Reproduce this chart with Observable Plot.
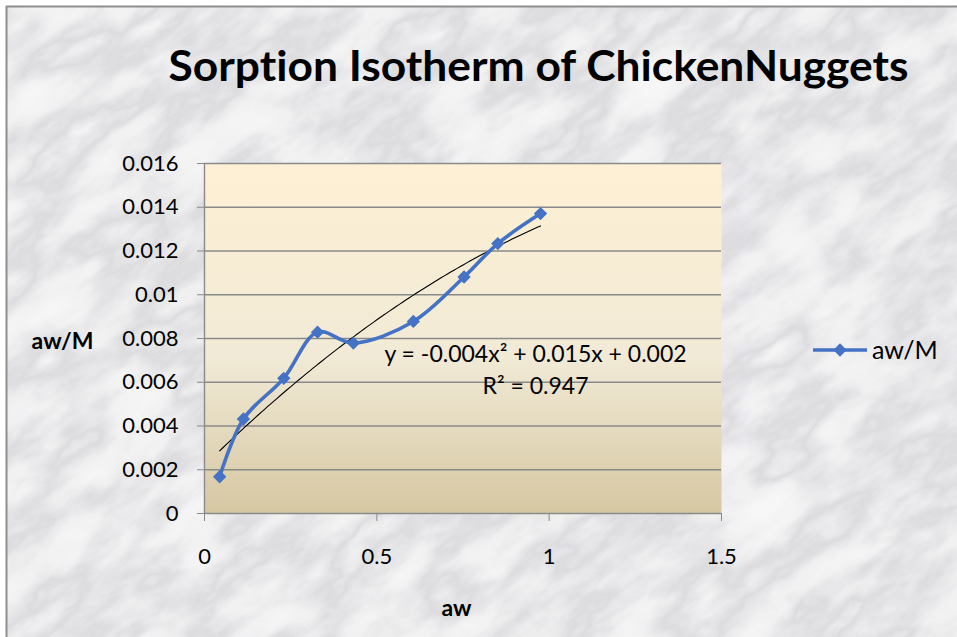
<!DOCTYPE html>
<html>
<head>
<meta charset="utf-8">
<script src="https://cdn.jsdelivr.net/npm/d3@7"></script>
<script src="https://cdn.jsdelivr.net/npm/@observablehq/plot@0.6"></script>
<style>
  html, body { margin: 0; padding: 0; background: #ffffff; }
  #wrap { position: relative; width: 957px; height: 637px; overflow: hidden; font-family: Lato, "Noto Sans", sans-serif; font-variant-ligatures: none; }
  #wrap text { font-variant-ligatures: none; }
  #bg, #chart, #legend { position: absolute; left: 0; top: 0; }
</style>
</head>
<body>
<div id="wrap">
  <svg id="bg" width="957" height="637">
    <defs>
      <filter id="marble" x="-20%" y="-20%" width="140%" height="140%">
        <feTurbulence type="fractalNoise" baseFrequency="0.011 0.024" numOctaves="5" seed="11" result="n"/>
        <feColorMatrix in="n" type="matrix" values="0.33 0.33 0.33 0 0  0.33 0.33 0.33 0 0  0.33 0.33 0.33 0 0  0 0 0 0 1" result="g"/>
        <feComponentTransfer in="g">
          <feFuncR type="table" tableValues="0.95 0.94 0.90 0.72 0.88 0.93 0.95 0.97"/>
          <feFuncG type="table" tableValues="0.95 0.94 0.90 0.72 0.88 0.93 0.95 0.97"/>
          <feFuncB type="table" tableValues="0.96 0.95 0.91 0.74 0.89 0.94 0.96 0.98"/>
        </feComponentTransfer>
      </filter>
    </defs>
    <rect x="0" y="0" width="957" height="637" fill="#ffffff"/>
    <g transform="rotate(-35 478 318)">
      <rect x="-300" y="-400" width="1560" height="1440" filter="url(#marble)"/>
    </g>
    <rect x="0" y="0" width="957" height="6" fill="#ffffff"/>
    <rect x="0" y="0" width="6" height="637" fill="#ffffff"/>
    <line x1="6" y1="6.5" x2="957" y2="6.5" stroke="#8e8e8e" stroke-width="2"/>
    <line x1="6.5" y1="6" x2="6.5" y2="637" stroke="#8e8e8e" stroke-width="2"/>
  </svg>
  <div id="chart"></div>
  <svg id="legend" width="957" height="637"></svg>
</div>
<script>
// ---- data ----
const title = "Sorption Isotherm of ChickenNuggets";
const xLabel = "aw";
const yLabel = "aw/M";
const seriesName = "aw/M";
const aw = [0.044, 0.113, 0.230, 0.328, 0.432, 0.606, 0.753, 0.851, 0.975];
const awM = [0.00168, 0.00432, 0.00618, 0.00829, 0.00779, 0.00878, 0.01081, 0.01234, 0.01371];
const xTicks = [0, 0.5, 1, 1.5];
const yTicks = [0, 0.002, 0.004, 0.006, 0.008, 0.01, 0.012, 0.014, 0.016];
const equationText = "y = -0.004x² + 0.015x + 0.002\nR² = 0.947";

const data = aw.map((x, i) => ({x, y: awM[i]}));

// quadratic least-squares trendline from the data
function quadFit(xs, ys) {
  let S = [0,0,0,0,0], T = [0,0,0];
  xs.forEach((x, i) => {
    for (let k = 0; k < 5; k++) S[k] += Math.pow(x, k);
    for (let k = 0; k < 3; k++) T[k] += ys[i] * Math.pow(x, k);
  });
  const A = [[S[0],S[1],S[2],T[0]],[S[1],S[2],S[3],T[1]],[S[2],S[3],S[4],T[2]]];
  for (let c = 0; c < 3; c++) {
    for (let r = c + 1; r < 3; r++) {
      const f = A[r][c] / A[c][c];
      for (let k = c; k < 4; k++) A[r][k] -= f * A[c][k];
    }
  }
  const b = [0,0,0];
  for (let r = 2; r >= 0; r--) {
    let s = A[r][3];
    for (let k = r + 1; k < 3; k++) s -= A[r][k] * b[k];
    b[r] = s / A[r][r];
  }
  return b;
}
const [c0, c1, c2] = quadFit(aw, awM);
const x0 = d3.min(aw), x1 = d3.max(aw);
const trend = d3.range(0, 101).map(i => {
  const x = x0 + (x1 - x0) * i / 100;
  return {x, y: c0 + c1 * x + c2 * x * x};
});

const blue = "#4472C4";
const gridGray = "#8a8a8a";
const font = "Lato, 'Noto Sans', sans-serif";

const plot = Plot.plot({
  width: 957,
  height: 637,
  marginLeft: 204,
  marginRight: 236,
  marginTop: 163,
  marginBottom: 124,
  style: {background: "transparent", fontFamily: font, fontSize: "22px", color: "#000", overflow: "visible"},
  x: {domain: [0, 1.5]},
  y: {domain: [0, 0.016]},
  marks: [
    Plot.frame({fill: "url(#paGrad)", stroke: null}),
    Plot.gridY(yTicks, {stroke: gridGray, strokeOpacity: 1, strokeWidth: 1.4}),
    Plot.ruleX([0], {stroke: gridGray, strokeWidth: 1.4}),
    Plot.axisY(yTicks, {tickSize: 7, tickPadding: 19, stroke: gridGray, strokeOpacity: 1, label: null, tickFormat: d => String(d), fill: "#000", fontSize: 22}),
    Plot.axisX(xTicks, {tickSize: 8, tickPadding: 27, stroke: gridGray, strokeOpacity: 1, label: null, tickFormat: d => String(d), fill: "#000", fontSize: 22}),
    Plot.line(trend, {x: "x", y: "y", stroke: "#000", strokeWidth: 1.1}),
    Plot.line(data, {x: "x", y: "y", stroke: blue, strokeWidth: 3.6, curve: "catmull-rom"}),
    Plot.dot(data, {x: "x", y: "y", symbol: "diamond2", r: 6, fill: blue, stroke: null}),
    Plot.text([equationText], {frameAnchor: "top-left", dx: 331, dy: 204, textAnchor: "middle", lineAnchor: "middle", lineHeight: 1.42, fontSize: 23, fill: "#000"}),
    Plot.text([title], {frameAnchor: "top-left", dx: 334, dy: -96, textAnchor: "middle", lineAnchor: "middle", fontSize: 42, fontWeight: "bold", fill: "#000"}),
    Plot.text([yLabel], {frameAnchor: "top-left", dx: -142, dy: 178, textAnchor: "middle", lineAnchor: "middle", fontSize: 23, fontWeight: "bold", fill: "#000"}),
    Plot.text([xLabel], {frameAnchor: "bottom-left", dx: 252, dy: 95, textAnchor: "middle", lineAnchor: "middle", fontSize: 23, fontWeight: "bold", fill: "#000"})
  ]
});

document.getElementById("chart").appendChild(plot);

// plot-area gradient
const svg = d3.select(plot);
const defs = svg.insert("defs", ":first-child");
const g = defs.append("linearGradient").attr("id", "paGrad").attr("x1", 0).attr("y1", 0).attr("x2", 0).attr("y2", 1);
g.append("stop").attr("offset", "0%").attr("stop-color", "#fef0d4");
g.append("stop").attr("offset", "55%").attr("stop-color", "#f1ead6");
g.append("stop").attr("offset", "100%").attr("stop-color", "#d6c7a2");

// fit the title width
svg.selectAll("text").filter(function() { return this.textContent === title; })
  .attr("textLength", 740).attr("lengthAdjust", "spacingAndGlyphs");

// legend
const lg = d3.select("#legend");
lg.append("line").attr("x1", 813).attr("x2", 867).attr("y1", 350).attr("y2", 350)
  .attr("stroke", blue).attr("stroke-width", 3.6);
lg.append("path").attr("d", d3.symbol(d3.symbolDiamond2, Math.PI * 36)())
  .attr("transform", "translate(840,350)").attr("fill", blue);
lg.append("text").attr("x", 872).attr("y", 350).attr("dy", "0.35em")
  .attr("font-family", font).attr("font-size", 25)
  .attr("fill", "#000").text(seriesName);
</script>
</body>
</html>
